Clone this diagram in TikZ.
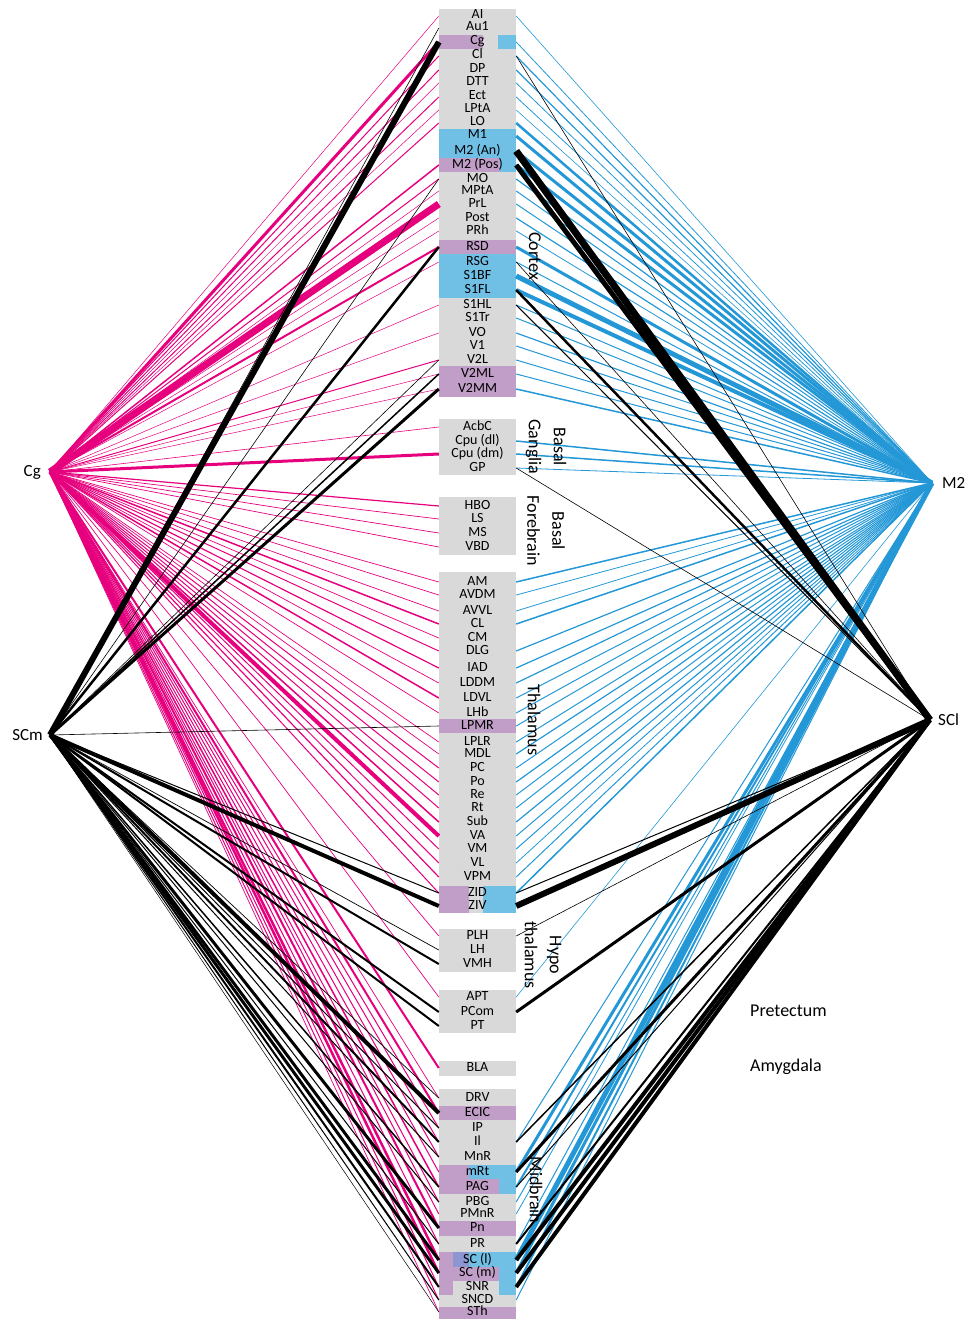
\documentclass[tikz,border=0pt]{standalone}
\usepackage{fontspec}
\setmainfont{Carlito}
\usetikzlibrary{positioning}

\begin{document}
\begin{tikzpicture}[x=1pt, y=-1pt,
  region/.style={inner sep=0pt, minimum width=77pt, minimum height=10pt,
    text height=8pt, text depth=2pt, font=\fontsize{14}{14}\selectfont},
  hub/.style={inner sep=0pt, font=\fontsize{17}{17}\selectfont},
  group/.style={inner sep=0pt, align=center, rotate=-90, font=\fontsize{18}{25}\selectfont},
  cgline/.style={draw=cgpink},
  mline/.style={draw=mblue},
  scline/.style={draw=black}]
% Colors
\definecolor{cgpink}{RGB}{230,0,126}
\definecolor{mblue}{RGB}{36,152,215}
\definecolor{boxgray}{RGB}{217,217,217}
\definecolor{purp}{RGB}{193,158,199}
\definecolor{lblue}{RGB}{112,192,230}
\definecolor{mixed}{RGB}{142,150,210}

\useasboundingbox (0,0) rectangle (971,1319);

% Regions (one row each)
\foreach \n/\t/\y in {
  AI/AI/16, Au1/Au1/28, Cg/Cg/42, Cl/Cl/56, DP/DP/70, DTT/DTT/83, Ect/Ect/97,
  LPtA/LPtA/110, LO/LO/123, M1/M1/136, M2An/M2 (An)/151, M2Pos/M2 (Pos)/165,
  MO/MO/179, MPtA/MPtA/191, PrL/PrL/204, Post/Post/218, PRh/PRh/231,
  RSD/RSD/247, RSG/RSG/262, S1BF/S1BF/276, S1FL/S1FL/290, S1HL/S1HL/305,
  S1Tr/S1Tr/318, VO/VO/333, V1/V1/346, V2L/V2L/360, V2ML/V2ML/374, V2MM/V2MM/389,
  AcbC/AcbC/427, CpuDL/Cpu (dl)/441, CpuDM/Cpu (dm)/454, GP/GP/468,
  HBO/HBO/506, LS/LS/519, MS/MS/533, VBD/VBD/547,
  AM/AM/582, AVDM/AVDM/595, AVVL/AVVL/611, CL/CL/624, CM/CM/638, DLG/DLG/651,
  IAD/IAD/668, LDDM/LDDM/683, LDVL/LDVL/698, LHb/LHb/713, LPMR/LPMR/726,
  LPLR/LPLR/742, MDL/MDL/754, PC/PC/768, Po/Po/782, Re/Re/795, Rt/Rt/808,
  Sub/Sub/822, VA/VA/836, VM/VM/849, VL/VL/863, VPM/VPM/877, ZID/ZID/893, ZIV/ZIV/906,
  PLH/PLH/936, LH/LH/950, VMH/VMH/964,
  APT/APT/997, PCom/PCom/1012, PT/PT/1026,
  BLA/BLA/1068,
  DRV/DRV/1098, ECIC/ECIC/1113, IP/IP/1128, Il/Il/1142, MnR/MnR/1157,
  mRt/mRt/1172, PAG/PAG/1187, PBG/PBG/1202, PMnR/PMnR/1214, Pn/Pn/1228,
  PR/PR/1244, SCl/SC (l)/1260, SCm/SC (m)/1273, SNR/SNR/1287, SNCD/SNCD/1300,
  STh/STh/1312}
  \coordinate (\n) at (477.5,\y);

% Grey blocks
\fill[boxgray] (439,9) rectangle (516,397);
\fill[boxgray] (439,419) rectangle (516,475);
\fill[boxgray] (439,497) rectangle (516,555);
\fill[boxgray] (439,572) rectangle (516,913);
\fill[boxgray] (439,929) rectangle (516,972);
\fill[boxgray] (439,990) rectangle (516,1033);
\fill[boxgray] (439,1061) rectangle (516,1076);
\fill[boxgray] (439,1089) rectangle (516,1319);

% Highlighted rows
\fill[purp] (439,35) rectangle (483,49);
\fill[lblue] (498,35) rectangle (516,49);
\fill[lblue] (439,129) rectangle (516,158);
\fill[purp] (439,158) rectangle (500,172);
\fill[lblue] (500,158) rectangle (516,172);
\fill[purp] (439,240) rectangle (516,254);
\fill[lblue] (439,254) rectangle (516,298);
\fill[purp] (439,366) rectangle (516,397);
\fill[purp] (439,719) rectangle (516,733);
\fill[purp] (439,886) rectangle (469,913);
\fill[lblue] (483,886) rectangle (516,913);
\fill[purp] (439,1106) rectangle (516,1120);
\fill[purp] (439,1165) rectangle (469,1179);
\fill[lblue] (469,1165) rectangle (516,1179);
\fill[purp] (439,1179) rectangle (499,1194);
\fill[lblue] (499,1179) rectangle (516,1194);
\fill[purp] (439,1221) rectangle (516,1236);
\fill[purp] (439,1252) rectangle (453,1267);
\fill[mixed] (453,1252) rectangle (469,1267);
\fill[lblue] (469,1252) rectangle (516,1267);
\fill[purp] (439,1267) rectangle (499,1281);
\fill[lblue] (499,1267) rectangle (516,1281);
\fill[purp] (439,1281) rectangle (453,1295);
\fill[lblue] (499,1281) rectangle (516,1295);
\fill[purp] (439,1307) rectangle (516,1319);

% Row labels
\foreach \n/\t in {
  AI/AI, Au1/Au1, Cg/Cg, Cl/Cl, DP/DP, DTT/DTT, Ect/Ect, LPtA/LPtA, LO/LO, M1/M1,
  M2An/M2 (An), M2Pos/M2 (Pos), MO/MO, MPtA/MPtA, PrL/PrL, Post/Post, PRh/PRh,
  RSD/RSD, RSG/RSG, S1BF/S1BF, S1FL/S1FL, S1HL/S1HL, S1Tr/S1Tr, VO/VO, V1/V1,
  V2L/V2L, V2ML/V2ML, V2MM/V2MM, AcbC/AcbC, CpuDL/Cpu (dl), CpuDM/Cpu (dm), GP/GP,
  HBO/HBO, LS/LS, MS/MS, VBD/VBD, AM/AM, AVDM/AVDM, AVVL/AVVL, CL/CL, CM/CM,
  DLG/DLG, IAD/IAD, LDDM/LDDM, LDVL/LDVL, LHb/LHb, LPMR/LPMR, LPLR/LPLR, MDL/MDL,
  PC/PC, Po/Po, Re/Re, Rt/Rt, Sub/Sub, VA/VA, VM/VM, VL/VL, VPM/VPM, ZID/ZID,
  ZIV/ZIV, PLH/PLH, LH/LH, VMH/VMH, APT/APT, PCom/PCom, PT/PT, BLA/BLA, DRV/DRV,
  ECIC/ECIC, IP/IP, Il/Il, MnR/MnR, mRt/mRt, PAG/PAG, PBG/PBG, PMnR/PMnR, Pn/Pn,
  PR/PR, SCl/SC (l), SCm/SC (m), SNR/SNR, SNCD/SNCD, STh/STh}
  \node[region] (r\n) at (\n) {\t};

% Hubs
\coordinate (hubCg) at (50,472);
\coordinate (hubSCm) at (50,735);
\coordinate (hubM2) at (932,483);
\coordinate (hubSCl) at (930,720);
\node[hub, left=9pt of hubCg] (lblCg) {Cg};
\node[hub, left=7pt of hubSCm] (lblSCm) {SCm};
\node[hub, right=10pt of hubM2] (lblM2) {M2};
\node[hub, right=8pt of hubSCl] (lblSCl) {SCl};

% Cg projections
\foreach \n/\w in {AI/0.5, Cg/3, Cl/1, DP/1, DTT/0.5, Ect/1, LPtA/0.5, LO/1,
  M2Pos/1.5, MO/1, MPtA/0.5, PrL/7, Post/0.5, PRh/0.5, RSD/2, RSG/0.5, S1HL/0.5,
  VO/0.5, V2L/1, V2ML/0.5, V2MM/0.5, AcbC/0.6, CpuDM/3, HBO/1.2, LS/0.7, MS/0.7,
  VBD/0.7, AM/0.7, AVDM/0.7, AVVL/0.7, CL/1.5, CM/0.7, DLG/1, IAD/1.2, LDDM/0.7,
  LDVL/1.5, LHb/0.7, LPLR/0.7, MDL/0.7, PC/1, Po/1, Re/1, Rt/1, Sub/1.5, VA/4,
  VM/1, VL/1, VPM/1.2, ZID/1, PLH/0.7, APT/0.7, BLA/2, DRV/0.7, ECIC/2, IP/1,
  Il/1, MnR/1, mRt/1, PAG/1.5, PBG/1, PMnR/1, Pn/2, PR/1, SCl/2.5, SCm/2.5, SNR/1,
  SNCD/1, STh/0.7}
  \draw[cgline, line width=\w] (hubCg) -- (r\n.west);

% SCm projections
\foreach \n/\w in {Au1/0.6, Cg/6, MO/0.6, RSD/2.5, V2L/0.6, V2ML/1.5, V2MM/3,
  LPMR/0.6, ZID/1, ZIV/4, LH/0.7, VMH/2, PCom/2, PT/2, DRV/0.7, ECIC/4, IP/1,
  Il/2, MnR/1, PAG/1.5, PBG/1, Pn/3, PR/1, SCl/3, SCm/3, SNR/2, SNCD/1, STh/0.5}
  \draw[scline, line width=\w] (hubSCm) -- (r\n.west);

% M2 projections
\foreach \n/\w in {AI/0.6, Cg/0.8, Cl/1.2, DP/1.2, DTT/0.8, Ect/0.8, LPtA/0.6,
  LO/2.5, M1/3, M2An/3, M2Pos/3, MO/1.2, MPtA/1, PrL/1, Post/1.2, PRh/0.8, RSD/3,
  RSG/1, S1BF/5, S1FL/4, S1HL/1, S1Tr/1, VO/1.2, V1/1, V2L/1, V2ML/1, V2MM/1.5,
  CpuDL/1.5, CpuDM/1.5, GP/0.8, AM/1.5, AVDM/0.8, AVVL/0.8, CL/1.5, DLG/1.2,
  IAD/1.2, LDDM/1.2, LDVL/1, LHb/1, LPMR/1, LPLR/1, MDL/1.2, PC/1, Po/1.2, Re/1,
  Rt/1, Sub/1.2, VA/1, VM/1, VL/0.8, VPM/1, ZID/1.5, APT/0.6, Il/1, mRt/3, PAG/2,
  PBG/1, PMnR/0.8, PR/1, SCl/5, SCm/3, SNR/2, SNCD/1}
  \draw[mline, line width=\w] (hubM2) -- (r\n.east);

% SCl projections
\foreach \n/\w in {Cl/0.6, M2An/7, M2Pos/5, RSG/0.6, S1FL/2.5, S1HL/1, GP/0.6,
  ZID/1, ZIV/6, PLH/0.6, PCom/3, Il/1.5, mRt/3, PAG/1, PR/2, SCl/4, SCm/4, SNR/4}
  \draw[scline, line width=\w] (hubSCl) -- (r\n.east);

% Group labels
\node[group] (lblCortex) at (535,256) {Cortex};
\node[group] (lblBG) at (546,447) {Basal\\Ganglia};
\node[group] (lblBF) at (546,531) {Basal\\Forebrain};
\node[group] (lblThal) at (534,720) {Thalamus};
\node[group] (lblHypo) at (543,955) {Hypo\\thalamus};
\node[group] (lblMid) at (536,1190) {Midbrain};
\node[hub, font=\fontsize{18}{18}\selectfont, anchor=west] (lblPre) at (750,1011) {Pretectum};
\node[hub, font=\fontsize{18}{18}\selectfont, anchor=west] (lblAmy) at (750,1067) {Amygdala};
\end{tikzpicture}
\end{document}
